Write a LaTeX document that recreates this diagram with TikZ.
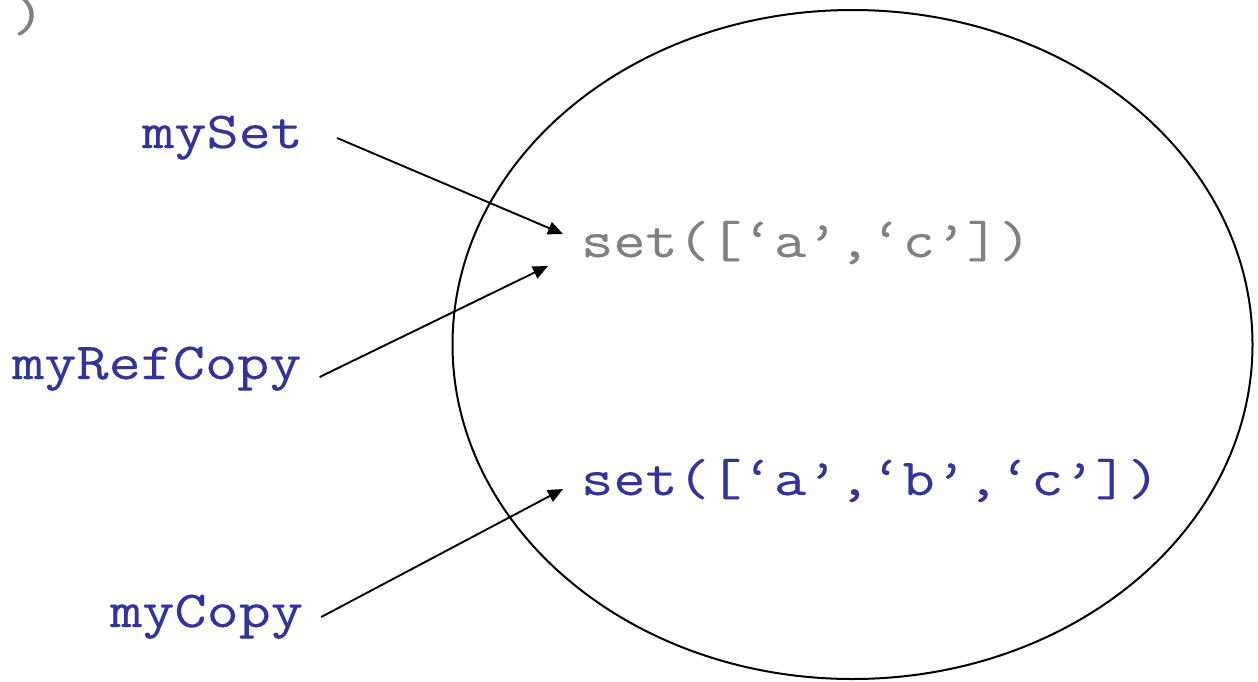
\documentclass[tikz,border=0pt]{standalone}
\usepackage{fontspec}
\newfontfamily\codefont{Latin Modern Mono}[FakeStretch=1.2,FakeBold=0.2]
\usetikzlibrary{arrows.meta,positioning}
\definecolor{nameblue}{HTML}{333399}
\definecolor{objgray}{HTML}{808080}

\begin{document}
\begin{tikzpicture}[
  x=1pt,y=1pt,
  code/.style={inner sep=0pt,font=\codefont\fontsize{52}{60}\selectfont},
  varname/.style={code,text=nameblue,anchor=base west},
  obj/.style={code,anchor=base west},
  ref/.style={-{Triangle[length=15pt,width=13pt]},line width=1.9pt}
]
\useasboundingbox (0,0) rectangle (1258,-681);
\node[code,text=objgray,anchor=base west] (paren) at (12,-31) {)};
% the set object in memory
\draw[line width=2pt] (852.5,-344.5) ellipse [x radius=400,y radius=334.5];
\node[obj,text=objgray] (setAC) at (581,-257) {set([‘a’,‘c’])};
\node[obj,text=nameblue] (setABC) at (581,-495) {set([‘a’,‘b’,‘c’])};
% names
\node[varname] (mySet) at (142,-148) {mySet};
\node[varname] (myRefCopy) at (12,-379) {myRefCopy};
\node[varname] (myCopy) at (110,-627) {myCopy};
\draw[ref] ([shift={(34pt,10pt)}]mySet.base east) -- ([shift={(-18pt,23pt)}]setAC.base west);
\draw[ref] ([shift={(18pt,2pt)}]myRefCopy.base east) -- ([shift={(-33pt,-9pt)}]setAC.base west);
\draw[ref] ([shift={(18pt,10pt)}]myCopy.base east) -- ([shift={(-18pt,6pt)}]setABC.base west);
\end{tikzpicture}
\end{document}
